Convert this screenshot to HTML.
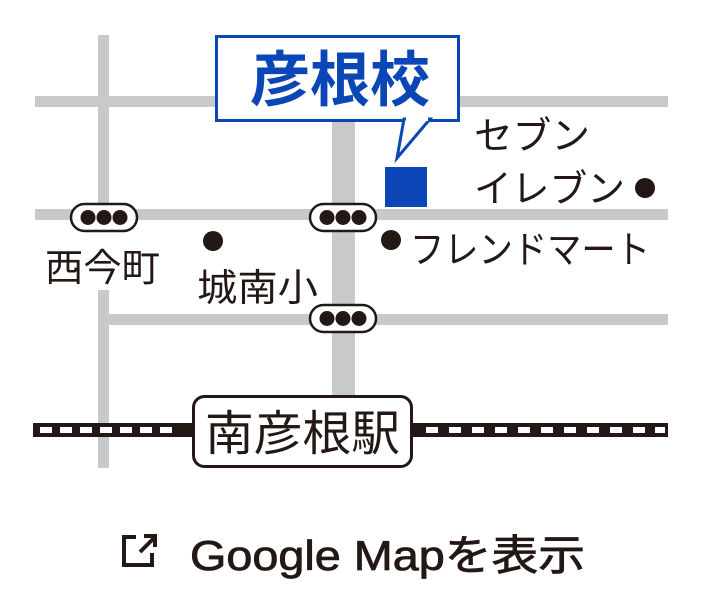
<!DOCTYPE html>
<html><head><meta charset="utf-8"><style>
html,body{margin:0;padding:0;background:#fff;}
body{width:705px;height:600px;position:relative;overflow:hidden;}
</style></head><body>
<svg width="705" height="600" viewBox="0 0 705 600" xmlns="http://www.w3.org/2000/svg" style="position:absolute;left:0;top:0">
<g fill="#c8c9ca">
<rect x="35" y="96" width="633" height="11"/>
<rect x="35" y="209" width="633" height="11"/>
<rect x="108" y="314" width="560" height="11"/>
<rect x="98" y="35" width="11" height="195"/>
<rect x="98" y="290" width="11" height="178"/>
<rect x="332" y="100" width="23" height="295"/>
</g>
<!-- callout -->
<rect x="216.5" y="36.5" width="242" height="84" fill="#fff" stroke="#0a46b5" stroke-width="3"/>
<path d="M404 119 L397 158 L430 119 Z" fill="#fff" stroke="#0a46b5" stroke-width="3" stroke-linejoin="miter"/>
<rect x="406" y="115" width="22" height="6" fill="#fff"/>
<text x="250" y="101" textLength="180" lengthAdjust="spacingAndGlyphs" font-family="'Liberation Sans','Noto Sans CJK JP',sans-serif" font-weight="bold" font-size="60" fill="#0a46b5">彦根校</text>
<rect x="385" y="167" width="42" height="40" fill="#0a46b5"/>
<!-- signals -->
<g id="s">
<rect x="71" y="204" width="66" height="27" rx="13.5" fill="#fff" stroke="#231815" stroke-width="2.5"/>
<circle cx="88" cy="217.5" r="7.5" fill="#231815"/><circle cx="104" cy="217.5" r="7.5" fill="#231815"/><circle cx="120" cy="217.5" r="7.5" fill="#231815"/>
</g>
<use href="#s" x="239"/>
<use href="#s" x="239" y="101"/>
<!-- dots -->
<g fill="#231815">
<circle cx="213" cy="241" r="10"/>
<circle cx="391" cy="240" r="10"/>
<circle cx="645" cy="188" r="10"/>
</g>
<g font-family="'Liberation Sans','Noto Sans CJK JP',sans-serif" font-size="38" fill="#231815">
<text x="45" y="281" textLength="115" lengthAdjust="spacingAndGlyphs">西今町</text>
<text x="197" y="301" textLength="121" lengthAdjust="spacingAndGlyphs">城南小</text>
<text x="410" y="263" textLength="240" lengthAdjust="spacingAndGlyphs">フレンドマート</text>
<text x="474" y="149" textLength="116" lengthAdjust="spacingAndGlyphs">セブン</text>
<text x="474" y="202" textLength="151" lengthAdjust="spacingAndGlyphs">イレブン</text>
</g>
<!-- rail -->
<rect x="33" y="423" width="635" height="14" fill="#231815"/>
<g fill="#fff">
<rect x="40" y="427" width="12" height="6"/><rect x="60" y="427" width="12" height="6"/><rect x="80" y="427" width="12" height="6"/><rect x="100" y="427" width="12" height="6"/><rect x="120" y="427" width="12" height="6"/><rect x="140" y="427" width="12" height="6"/><rect x="160" y="427" width="12" height="6"/>
<rect x="426" y="427" width="12" height="6"/><rect x="449" y="427" width="12" height="6"/><rect x="472" y="427" width="12" height="6"/><rect x="495" y="427" width="12" height="6"/><rect x="518" y="427" width="12" height="6"/><rect x="541" y="427" width="12" height="6"/><rect x="564" y="427" width="12" height="6"/><rect x="587" y="427" width="12" height="6"/><rect x="610" y="427" width="12" height="6"/><rect x="633" y="427" width="12" height="6"/><rect x="655" y="427" width="10" height="6"/>
</g>
<rect x="193.5" y="396.5" width="218" height="70" rx="11" fill="#fff" stroke="#231815" stroke-width="3"/>
<text x="205" y="450" textLength="195" lengthAdjust="spacingAndGlyphs" font-family="'Liberation Sans','Noto Sans CJK JP',sans-serif" font-size="48" fill="#231815">南彦根駅</text>
<!-- link icon -->
<g stroke="#231815" stroke-width="4" fill="none">
<path d="M136 537 H124 V565 H152 V553"/>
<path d="M140 552 L154 538"/>
<path d="M144 536 H155 V547"/>
</g>
<text x="190" y="570" textLength="395" lengthAdjust="spacingAndGlyphs" font-family="'Liberation Sans','Noto Sans CJK JP',sans-serif" font-size="42" fill="#231815" stroke="#231815" stroke-width="0.8">Google Mapを表示</text>
</svg>
</body></html>
